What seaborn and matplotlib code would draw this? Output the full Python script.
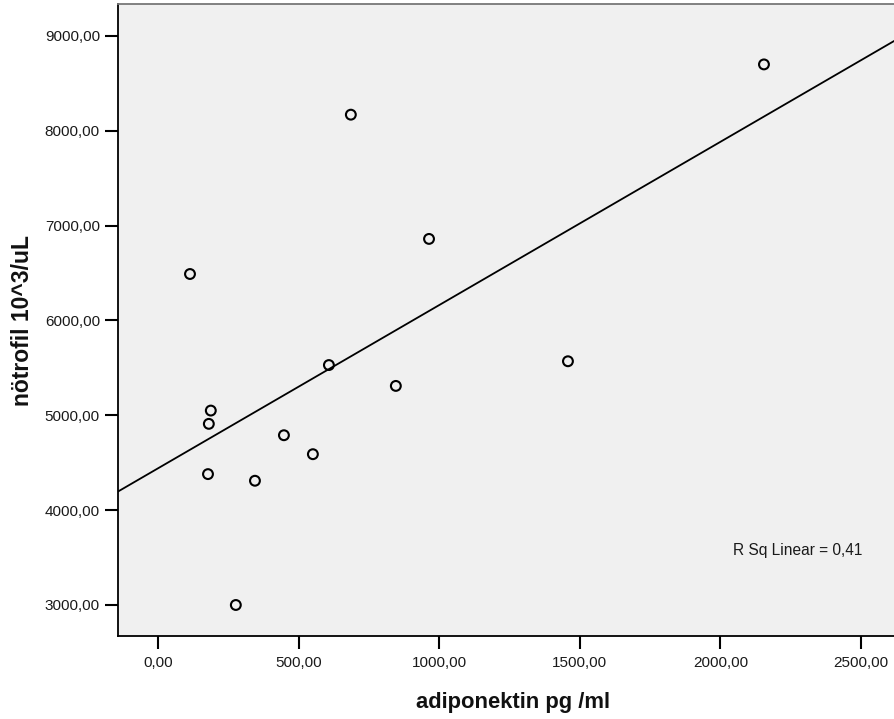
import matplotlib
matplotlib.use("Agg")
import matplotlib.pyplot as plt
import seaborn as sns
import pandas as pd
from matplotlib.ticker import FuncFormatter

adiponektin = [114, 686, 2155, 964, 608, 846, 1458, 188, 181, 448, 551, 178, 345, 277]
notrofil = [6490, 8170, 8700, 6860, 5530, 5310, 5570, 5050, 4910, 4790, 4590, 4380, 4310, 3000]
x_ticks = [0, 500, 1000, 1500, 2000, 2500]
y_ticks = [3000, 4000, 5000, 6000, 7000, 8000, 9000]
r2_text = "R Sq Linear = 0,41"

df = pd.DataFrame({"adiponektin": adiponektin, "notrofil": notrofil})

sns.set_theme(style="white")
plt.rcParams["font.family"] = ["Liberation Sans", "DejaVu Sans"]

fig = plt.figure(figsize=(8.95, 7.19), dpi=100)
ax = fig.add_axes([118/895, 83/719, 1 - 118/895, (636-4)/719])
ax.set_facecolor("#F0F0F0")
ax.set_xlim(-142, 2621)
ax.set_ylim(2673, 9337)

sns.regplot(data=df, x="adiponektin", y="notrofil", ax=ax, ci=None, truncate=False,
            scatter_kws=dict(s=50, facecolors="none", edgecolors="black", linewidths=1.5, alpha=1),
            line_kws=dict(color="black", linewidth=1.3))
ax.set_xlim(-142, 2621)
ax.set_ylim(2673, 9337)

fmt = FuncFormatter(lambda v, p: f"{v:.2f}".replace(".", ","))
ax.set_xticks(x_ticks)
ax.set_yticks(y_ticks)
ax.xaxis.set_major_formatter(fmt)
ax.yaxis.set_major_formatter(fmt)
ax.tick_params(axis="both", direction="out", length=9.5, width=1.5, color="black",
               labelsize=11, labelcolor="#1a1a1a", left=True, bottom=True)
ax.tick_params(axis="x", pad=5)
ax.tick_params(axis="y", pad=3.5)

for side in ["left", "bottom"]:
    ax.spines[side].set_color("black")
    ax.spines[side].set_linewidth(1.3)
ax.spines["top"].set_color("#777777")
ax.spines["top"].set_linewidth(1.3)
ax.spines["right"].set_visible(False)

ax.set_xlabel("adiponektin pg /ml", fontsize=15.8, fontweight="bold", color="#111111")
ax.set_ylabel("nötrofil 10^3/uL", fontsize=16.5, fontweight="bold", color="#111111")
ax.xaxis.set_label_coords(0.508, -0.088)
ax.yaxis.set_label_coords(-0.108, 0.5)

ax.text(0.875, 0.136, r2_text, transform=ax.transAxes, fontsize=11.2, color="#1a1a1a",
        ha="center", va="center")

fig.savefig("out.png", dpi=100)
